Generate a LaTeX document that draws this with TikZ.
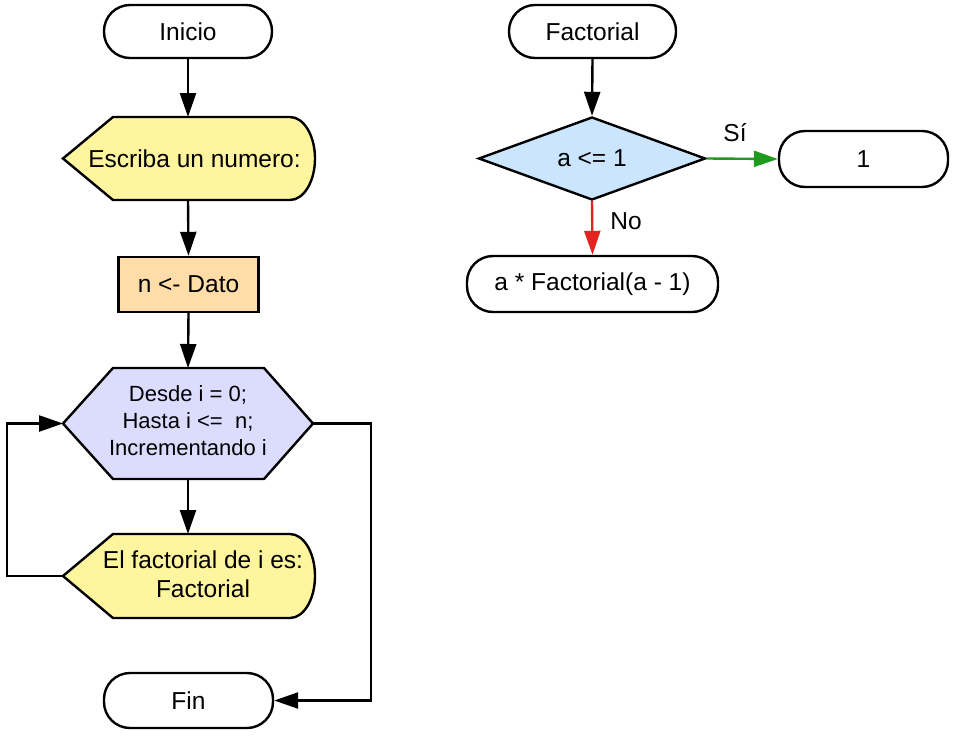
\documentclass[tikz,border=0pt]{standalone}
\usepackage{fontspec}
\setmainfont{Liberation Sans}
\usetikzlibrary{arrows.meta,shapes.geometric}
\definecolor{dispY}{HTML}{FFF59E}
\definecolor{procO}{HTML}{FFDDA8}
\definecolor{loopV}{HTML}{DCDCFF}
\definecolor{decB}{HTML}{CCE5FF}
\definecolor{yesG}{HTML}{1E9A1E}
\definecolor{noR}{HTML}{E52222}
\begin{document}
\begin{tikzpicture}[x=1pt,y=-1pt,
  txt/.style={font=\fontsize{24.5}{29}\selectfont, inner sep=0pt, align=center},
  term/.style={draw, line width=2.4pt, rounded corners=26pt, fill=white, txt},
  proc/.style={draw, line width=2.4pt, fill=procO, txt},
  shp/.style={draw, line width=2.4pt, line join=miter},
  dec/.style={draw, line width=2.4pt, shape=diamond, aspect=2.7, fill=decB, txt},
  conn/.style={line width=2.4pt, -{Triangle[length=24pt,width=16pt]}},
  lbl/.style={txt}]
\useasboundingbox (0,0) rectangle (955,737);

% ---------- left flowchart ----------
\node[term, minimum width=168pt, minimum height=53pt] (ini) at (188,31.5) {Inicio};

\filldraw[shp, fill=dispY] (63,158.5) -- (113,117) -- (290,117)
  arc[start angle=-90, end angle=90, x radius=25, y radius=41.5] -- (113,200) -- cycle;
\node[txt] (esc) at (194.5,158.5) {Escriba un numero:};
\coordinate (escT) at (188,117);
\coordinate (escB) at (188,200);

\node[proc, minimum width=140pt, minimum height=55pt] (dato) at (188.5,284.5) {n <- Dato};

\filldraw[shp, fill=loopV] (63,423.5) -- (113,368) -- (264,368) -- (313,423.5)
  -- (264,479) -- (113,479) -- cycle;
\node[txt, font=\fontsize{22}{27}\selectfont] (hex) at (188,421)
  {Desde i = 0;\\Hasta i <=~~n;\\Incrementando i};
\coordinate (hexT) at (188,368);
\coordinate (hexB) at (188,479);
\coordinate (hexL) at (63,423.5);
\coordinate (hexR) at (313,423.5);

\filldraw[shp, fill=dispY] (63,576) -- (113,534) -- (290,534)
  arc[start angle=-90, end angle=90, x radius=25, y radius=42] -- (113,618) -- cycle;
\node[txt] (fact) at (203,574) {El factorial de i es:\\Factorial};
\coordinate (f2T) at (188,534);
\coordinate (f2L) at (63,576);

\node[term, minimum width=169pt, minimum height=55pt] (fin) at (188.5,700.5) {Fin};

\draw[conn] (ini.south) -- (escT);
\draw[conn] (escB) -- (dato.north);
\draw[conn] (dato.south) -- (hexT);
\draw[conn] (hexB) -- (f2T);
\coordinate (loopC) at (7,576);
\draw[conn] (f2L) -- (loopC) |- (hexL);
\coordinate (exitC) at (371,423.5);
\draw[conn] (hexR) -- (exitC) |- (fin.east);

% ---------- right flowchart ----------
\node[term, minimum width=167pt, minimum height=53pt] (fac) at (592.5,31.5) {Factorial};
\node[dec, minimum width=227pt, minimum height=83pt] (cond) at (592,158.5) {a <= 1};
\node[term, minimum width=169pt, minimum height=56pt] (one) at (863.5,159) {1};
\node[term, minimum width=251pt, minimum height=56pt] (rec) at (592.5,284) {a * Factorial(a - 1)};

\draw[conn] (fac.south) -- (cond.north);
\draw[conn, yesG, line width=2.4pt] (cond.east) -- (one.west);
\draw[conn, noR, line width=2.4pt] (cond.south) -- (rec.north);
\node[lbl] (si) at (735,133) {Sí};
\node[lbl] (no) at (626,221) {No};
\end{tikzpicture}
\end{document}
